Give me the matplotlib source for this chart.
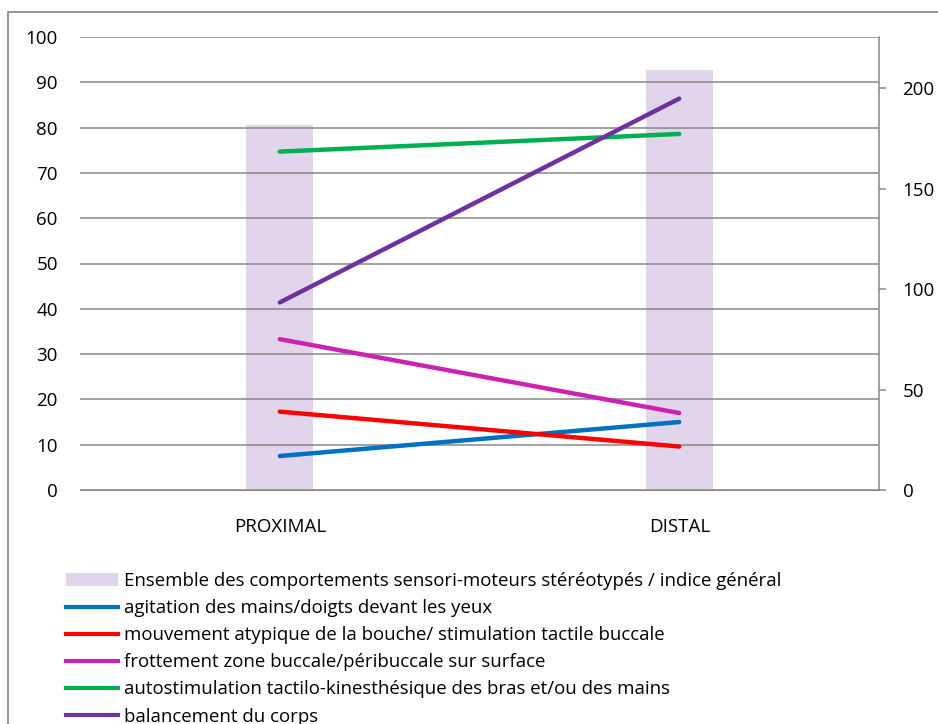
import numpy as np
import matplotlib
matplotlib.use("Agg")
from matplotlib import pyplot as plt
from matplotlib.patches import Patch, Rectangle
from matplotlib.lines import Line2D

plt.rcParams['font.family'] = ['Open Sans', 'DejaVu Sans']

# data
categories = ["PROXIMAL", "DISTAL"]
indice_general = [181.5, 209]          # bars, right axis
agitation = [7.5, 15.0]
bouche = [17.3, 9.6]
frottement = [33.3, 17.0]
autostim = [74.7, 78.6]
balancement = [41.4, 86.4]

bar_label = "Ensemble des comportements sensori-moteurs stéréotypés / indice général"
line_series = [
    (agitation, "agitation des mains/doigts devant les yeux", "#0070C0"),
    (bouche, "mouvement atypique de la bouche/ stimulation tactile buccale", "#FF0000"),
    (frottement, "frottement zone buccale/péribuccale sur surface", "#CC22B2"),
    (autostim, "autostimulation tactilo-kinesthésique des bras et/ou des mains", "#00B050"),
    (balancement, "balancement du corps", "#7030A0"),
]

grid_col = "#878787"

fig = plt.figure(figsize=(9.38, 7.24), dpi=100)
fig.patches.append(Rectangle((8/938, -0.1), 1.2, 1 - 12/724 + 0.1,
                             transform=fig.transFigure, fill=False,
                             edgecolor="#8c8c8c", linewidth=1.3))

ax = fig.add_axes([80/938, (724-490)/724, (879-80)/938, (490-37)/724])
ax2 = ax.twinx()
x = np.arange(len(categories))

ax2.bar(x, indice_general, width=0.168, color="#E1D5EB", zorder=1)
ax2.set_ylim(0, 225.5)
ax2.set_yticks([0, 50, 100, 150, 200])

# lines and grid above the bars
ax.set_zorder(ax2.get_zorder() + 1)
ax.patch.set_visible(False)

for vals, lab, col in line_series:
    ax.plot(x, vals, color=col, linewidth=3.2, solid_capstyle='round', zorder=3)

ax.set_xlim(-0.5, 1.5)
ax.set_ylim(0, 100)
ax.set_yticks(range(0, 101, 10))
ax.yaxis.grid(True, color=grid_col, linewidth=1.1)
ax.set_axisbelow(True)
ax.set_xticks(x)
ax.set_xticklabels(categories)

for s in ["left", "top", "right"]:
    ax.spines[s].set_visible(False)
ax.spines["bottom"].set_color(grid_col)
for s in ["left", "top", "bottom"]:
    ax2.spines[s].set_visible(False)
ax2.spines["right"].set_color(grid_col)
ax2.spines["right"].set_linewidth(1.1)

ax.tick_params(axis="y", length=0, pad=16, labelsize=13.5)
ax.tick_params(axis="x", length=0, pad=20, labelsize=13.5)
ax2.tick_params(axis="y", length=5, width=1.1, color=grid_col, pad=12, labelsize=13.5)

handles = [Patch(facecolor="#E1D5EB", edgecolor="none")]
labels = [bar_label]
for vals, lab, col in line_series:
    handles.append(Line2D([], [], color=col, linewidth=3.0))
    labels.append(lab)

fig.legend(handles, labels, loc="upper left", bbox_to_anchor=(66/938, 1 - 572/724),
           frameon=False, fontsize=13.4, handlelength=2.8, handletextpad=0.32,
           labelspacing=0.49, borderaxespad=0, borderpad=0)

fig.savefig("out.png", dpi=100)
